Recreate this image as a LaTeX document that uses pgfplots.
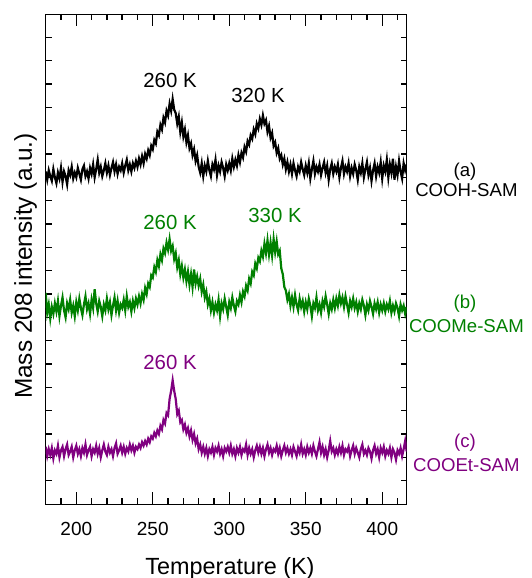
\documentclass[border=0pt]{standalone}
\usepackage{pgfplots}
\usepackage{pgfplotstable}
\pgfplotsset{compat=1.18}
\usepackage{fontspec}
\setmainfont{Liberation Sans}

\definecolor{tpdgreen}{RGB}{0,128,0}
\definecolor{tpdpurple}{RGB}{128,0,128}
\newcommand\tl[1]{\fontsize{9.5}{11}\selectfont\rule{0pt}{12.4pt}#1}

% T  a (COOH)  b (COOMe)  c (COOEt)
\pgfplotstableread{
T a b c
180 14.25 9.05 2.45
181 13.90 8.20 2.05
182 14.30 8.55 2.35
183 14.05 7.95 2.10
184 13.85 8.45 2.40
185 14.35 8.15 1.95
186 14.00 8.60 2.30
187 13.75 8.25 2.15
188 14.20 8.70 2.50
189 13.95 8.05 2.00
190 14.40 8.50 2.30
191 13.80 8.85 2.45
192 14.25 8.30 2.05
193 14.05 8.00 2.35
194 13.70 8.60 2.55
195 14.30 8.35 2.10
196 14.10 8.75 2.25
197 14.45 8.20 2.45
198 13.95 8.50 2.00
199 14.20 8.05 2.30
200 14.00 8.65 2.50
201 14.40 8.30 2.15
202 14.15 8.80 2.35
203 13.90 8.40 2.05
204 14.35 8.10 2.40
205 14.50 8.55 2.20
206 14.05 8.90 2.55
207 14.25 8.35 2.10
208 13.95 8.60 2.30
209 14.40 8.15 2.45
210 14.15 8.75 2.05
211 14.55 8.40 2.35
212 14.00 9.20 2.20
213 14.35 8.60 2.50
214 14.75 8.25 2.15
215 14.20 8.70 2.40
216 14.45 8.45 2.00
217 14.05 8.05 2.30
218 14.30 8.55 2.55
219 14.60 8.30 2.25
220 14.20 8.80 2.10
221 14.50 8.35 2.45
222 14.10 8.65 2.20
223 14.40 8.10 2.35
224 14.65 8.50 2.05
225 14.25 8.85 2.40
226 14.55 8.30 2.60
227 14.15 8.70 2.15
228 14.45 8.20 2.30
229 14.30 8.55 2.50
230 14.60 8.40 2.20
231 14.20 8.75 2.45
232 14.50 8.30 2.15
233 14.75 8.90 2.40
234 14.30 8.45 2.25
235 14.55 8.65 2.55
236 14.25 8.25 2.30
237 14.60 8.70 2.50
238 14.40 8.40 2.20
239 14.70 8.80 2.45
240 14.45 8.55 2.35
241 14.80 8.90 2.55
242 14.55 8.60 2.40
243 14.90 9.00 2.65
244 14.60 8.75 2.50
245 15.00 9.25 2.70
246 14.80 9.00 2.55
247 15.15 9.45 2.80
248 14.95 9.30 2.65
249 15.35 9.80 2.90
250 15.20 9.70 2.80
251 15.60 10.15 3.05
252 15.45 9.95 2.90
253 15.95 10.45 3.15
254 15.80 10.20 3.00
255 16.25 10.70 3.35
256 16.05 10.45 3.20
257 16.55 10.95 3.60
258 16.35 10.75 3.45
259 16.85 11.20 3.90
260 16.65 10.90 3.80
261 17.15 11.35 4.50
262 16.85 10.85 4.85
263 17.35 11.05 5.30
264 16.90 10.50 4.85
265 16.75 10.75 4.50
266 16.30 10.15 3.85
267 16.60 10.45 4.00
268 15.95 9.85 3.50
269 16.35 10.20 3.60
270 15.75 9.70 3.20
271 16.05 10.05 3.40
272 15.50 9.55 3.05
273 15.80 9.95 3.25
274 15.25 9.40 2.90
275 15.45 9.85 3.15
276 14.95 9.30 2.75
277 15.20 10.05 3.00
278 14.70 9.45 2.60
279 14.95 9.75 2.80
280 14.45 9.35 2.35
281 14.20 9.65 2.55
282 14.60 9.10 2.20
283 14.05 9.40 2.45
284 14.50 8.85 2.15
285 14.25 9.10 2.40
286 14.70 8.55 2.05
287 14.30 8.80 2.35
288 14.05 8.30 2.20
289 14.55 8.65 2.45
290 14.35 8.20 2.10
291 14.75 8.55 2.40
292 14.10 8.30 2.25
293 14.50 8.75 2.50
294 14.25 8.05 2.15
295 14.65 8.60 2.35
296 14.40 8.35 2.05
297 14.05 8.80 2.40
298 14.55 8.45 2.25
299 14.30 8.10 2.45
300 14.60 8.65 2.20
301 14.30 8.40 2.50
302 14.80 8.85 2.15
303 14.45 8.50 2.35
304 14.75 8.25 2.05
305 14.50 8.70 2.40
306 14.95 8.55 2.20
307 14.65 8.95 2.45
308 15.05 8.65 2.10
309 14.85 9.10 2.35
310 15.30 8.90 2.25
311 15.10 9.35 2.55
312 15.55 9.15 2.10
313 15.40 9.65 2.40
314 15.80 9.45 2.15
315 15.65 9.95 2.35
316 16.05 9.80 2.00
317 15.85 10.30 2.30
318 16.30 10.10 2.50
319 16.10 10.55 2.20
320 16.50 10.40 2.45
321 16.25 10.85 2.15
322 16.65 10.60 2.40
323 16.30 11.15 2.05
324 16.45 10.75 2.35
325 15.95 11.30 2.55
326 16.20 10.70 2.20
327 15.70 11.20 2.40
328 15.90 10.65 2.10
329 15.35 11.35 2.35
330 15.50 10.80 2.25
331 15.05 11.25 2.50
332 15.25 10.70 2.15
333 14.80 10.85 2.40
334 14.95 10.10 2.05
335 14.55 9.85 2.30
336 14.80 9.30 2.50
337 14.35 9.15 2.20
338 14.65 8.75 2.40
339 14.25 9.00 2.15
340 14.55 8.50 2.35
341 14.15 8.85 2.10
342 14.60 8.45 2.45
343 14.30 8.95 2.25
344 14.05 8.55 2.05
345 14.45 8.30 2.40
346 14.25 8.80 2.20
347 14.65 8.45 2.55
348 14.35 8.70 2.15
349 14.10 8.25 2.35
350 14.50 8.65 2.10
351 14.20 8.35 2.45
352 14.60 8.80 2.20
353 13.95 8.50 2.40
354 14.35 8.05 2.15
355 14.70 8.60 2.50
356 14.15 8.40 2.25
357 14.45 8.85 2.05
358 14.25 8.30 2.35
359 14.55 8.55 2.65
360 14.10 8.20 2.20
361 14.40 8.70 2.45
362 14.65 8.45 2.10
363 14.20 8.90 2.35
364 14.50 8.55 2.00
365 13.90 8.15 2.30
366 14.35 8.60 2.70
367 14.60 8.35 2.25
368 14.15 8.75 2.40
369 14.45 8.40 2.10
370 14.25 8.80 2.35
371 14.55 8.50 2.15
372 14.00 8.95 2.45
373 14.40 8.60 2.20
374 14.70 8.85 2.50
375 14.15 8.45 2.10
376 14.45 8.90 2.35
377 14.25 8.55 2.25
378 14.60 8.20 2.45
379 14.05 8.70 2.05
380 14.40 8.45 2.30
381 14.15 8.80 2.50
382 14.55 8.40 2.15
383 14.30 8.65 2.40
384 13.90 8.25 2.20
385 14.45 8.60 2.00
386 14.20 8.35 2.35
387 14.60 8.75 2.55
388 14.00 8.50 2.15
389 14.35 8.10 2.30
390 14.65 8.55 2.10
391 14.10 8.30 2.40
392 14.40 8.70 2.25
393 13.85 8.45 1.95
394 14.30 8.15 2.30
395 14.60 8.60 2.50
396 14.05 8.35 2.15
397 14.45 8.65 2.35
398 14.20 8.20 2.00
399 14.65 8.55 2.40
400 13.95 8.30 2.20
401 14.50 8.60 2.45
402 14.25 8.25 2.05
403 14.75 8.55 2.30
404 14.00 8.35 2.15
405 14.55 8.70 2.40
406 14.20 8.20 2.00
407 14.80 8.50 2.35
408 13.90 8.25 2.20
409 14.45 8.60 1.90
410 14.10 8.40 2.30
411 14.70 8.05 2.15
412 14.25 8.55 2.40
413 13.95 8.30 2.05
414 14.60 8.50 2.35
415 14.30 8.15 2.70
416 14.55 8.45 2.25
}\tpd

\begin{document}
\begin{tikzpicture}
\begin{axis}[
  scale only axis,
  width=180.5pt, height=245pt,
  xmin=180, xmax=416, ymin=0, ymax=21,
  xtick={200,250,300,350,400},
  xticklabels={\tl{200},\tl{250},\tl{300},\tl{350},\tl{400}},
  minor xtick={190,210,220,230,240,260,270,280,290,310,320,330,340,360,370,380,390,410},
  ytick={-5},
  yticklabels={},
  minor ytick={1,2,...,20},
  tick align=inside,
  major tick length=6pt,
  minor tick length=3pt,
  major tick style={line width=0.7pt, black},
  minor tick style={line width=0.7pt, black},
]
\addplot[line width=1.1pt, black] table[x=T, y=a] {\tpd};
\addplot[line width=1.1pt, tpdgreen] table[x=T, y=b] {\tpd};
\addplot[line width=1.1pt, tpdpurple] table[x=T, y=c] {\tpd};

\coordinate (bl) at (rel axis cs:0,0);
\coordinate (tr) at (rel axis cs:1,1);
\end{axis}

\begin{scope}[every node/.style={font=\fontsize{10.2}{12}\selectfont}]
\node[black] at ([shift={(62.15pt,212pt)}]bl) {260 K};
\node[black] at ([shift={(106.15pt,204.5pt)}]bl) {320 K};
\node[tpdgreen] at ([shift={(62.15pt,141pt)}]bl) {260 K};
\node[tpdgreen] at ([shift={(114.65pt,144.5pt)}]bl) {330 K};
\node[tpdpurple] at ([shift={(62.15pt,71pt)}]bl) {260 K};
\end{scope}

\begin{scope}[every node/.style={font=\fontsize{9.3}{11}\selectfont}]
\node[black] at ([shift={(209.65pt,166pt)}]bl) {(a)};
\node[black] at ([shift={(210.35pt,157pt)}]bl) {COOH-SAM};
\node[tpdgreen] at ([shift={(209.65pt,100pt)}]bl) {(b)};
\node[tpdgreen] at ([shift={(210.35pt,89pt)}]bl) {COOMe-SAM};
\node[tpdpurple] at ([shift={(209.65pt,30.5pt)}]bl) {(c)};
\node[tpdpurple] at ([shift={(210.35pt,19.5pt)}]bl) {COOEt-SAM};
\end{scope}

\node[anchor=base, font=\fontsize{11.7}{14}\selectfont] at ([shift={(92.15pt,-35pt)}]bl) {Temperature (K)};
\node[anchor=base, rotate=90, font=\fontsize{12.2}{14}\selectfont] at ([shift={(-6.85pt,119pt)}]bl) {Mass 208 intensity (a.u.)};

\pgfresetboundingbox
\path[use as bounding box] ([shift={(-22.85pt,-37pt)}]bl) rectangle ([shift={(62.15pt,7pt)}]tr);
\end{tikzpicture}
\end{document}
